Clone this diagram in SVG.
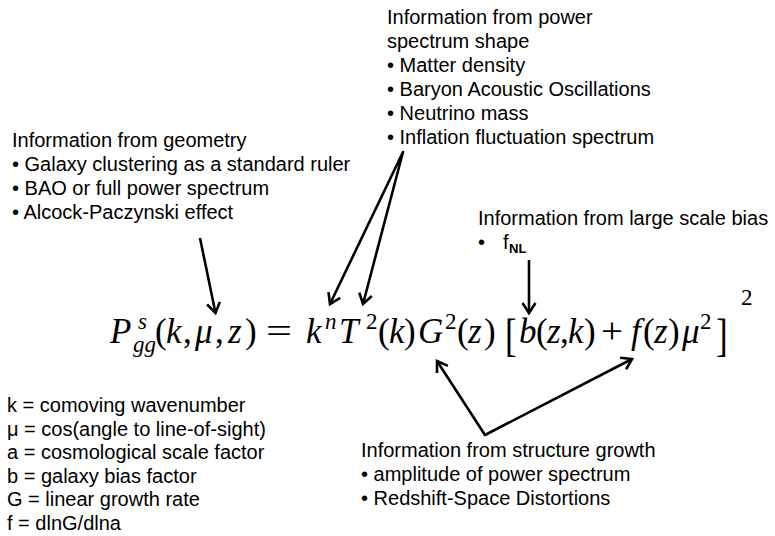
<svg xmlns="http://www.w3.org/2000/svg" width="775" height="536" viewBox="0 0 775 536">
<style>
.t{font-family:"Liberation Sans",Arial,Helvetica,sans-serif;font-size:20px;fill:#000}
.b{font-family:"Liberation Sans",Arial,sans-serif;font-size:13px;font-weight:bold;fill:#000}
.mi{font-family:"Liberation Serif","Times New Roman",serif;font-style:italic;font-size:35px;fill:#000}
.mr{font-family:"Liberation Serif","Times New Roman",serif;font-size:35px;fill:#000}
.s{font-size:23px}
.ln{fill:none;stroke:#000;stroke-width:2.6;stroke-linejoin:round}
</style>
<defs>
<marker id="ah" markerUnits="userSpaceOnUse" viewBox="-13 -8 15 16" markerWidth="15" markerHeight="16" refX="0" refY="0" orient="auto-start-reverse" overflow="visible">
<path d="M-10,-6.5 L0,0 L-10,6.5" fill="none" stroke="#000" stroke-width="2.6" stroke-linejoin="miter"/>
</marker>
</defs>
<rect width="775" height="536" fill="#fff"/>
<g id="power-spectrum-info">
<text class="t" x="387" y="23.5">Information from power</text>
<text class="t" x="387" y="47.5">spectrum shape</text>
<text class="t" x="387" y="71.5">• Matter density</text>
<text class="t" x="387" y="95.5">• Baryon Acoustic Oscillations</text>
<text class="t" x="387" y="119.5">• Neutrino mass</text>
<text class="t" x="387" y="143.5">• Inflation fluctuation spectrum</text>
</g>
<g id="geometry-info">
<text class="t" x="12" y="147">Information from geometry</text>
<text class="t" x="12" y="171">• Galaxy clustering as a standard ruler</text>
<text class="t" x="12" y="195">• BAO or full power spectrum</text>
<text class="t" x="12" y="219">• Alcock-Paczynski effect</text>
</g>
<g id="bias-info">
<text class="t" x="478" y="225">Information from large scale bias</text>
<text class="t" x="478" y="249">•</text>
<text class="t" x="503" y="249">f</text>
<text class="b" x="509" y="253">NL</text>
</g>
<g id="growth-info">
<text class="t" x="361" y="457">Information from structure growth</text>
<text class="t" x="361" y="481">• amplitude of power spectrum</text>
<text class="t" x="361" y="505">• Redshift-Space Distortions</text>
</g>
<g id="legend">
<text class="t" x="7" y="412">k = comoving wavenumber</text>
<text class="t" x="7" y="435.5">μ = cos(angle to line-of-sight)</text>
<text class="t" x="7" y="459">a = cosmological scale factor</text>
<text class="t" x="7" y="482.5">b = galaxy bias factor</text>
<text class="t" x="7" y="506">G = linear growth rate</text>
<text class="t" x="7" y="529.5">f = dlnG/dlna</text>
</g>
<g id="equation">
<text class="mi" x="110" y="343">P</text>
<text class="mi s" x="138" y="329">s</text>
<text class="mi s" x="133" y="352">gg</text>
<text class="mr" x="155" y="343">(</text>
<text class="mi" x="166" y="343">k</text>
<text class="mr" x="183" y="343">,</text>
<text class="mi" x="195" y="343">μ</text>
<text class="mr" x="215" y="343">,</text>
<text class="mi" x="228" y="343">z</text>
<text class="mr" x="245" y="343">)</text>
<text class="mr" x="266" y="343" textLength="26" lengthAdjust="spacingAndGlyphs">=</text>
<text class="mi" x="306" y="343">k</text>
<text class="mi s" x="325" y="329">n</text>
<text class="mi" x="339" y="343">T</text>
<text class="mr s" x="366" y="329">2</text>
<text class="mr" x="378" y="343">(</text>
<text class="mi" x="389" y="343">k</text>
<text class="mr" x="404" y="343">)</text>
<text class="mi" x="418" y="343">G</text>
<text class="mr s" x="445" y="329">2</text>
<text class="mr" x="457" y="343">(</text>
<text class="mi" x="468" y="343">z</text>
<text class="mr" x="484" y="343">)</text>
<text class="mr" x="0" y="0" font-size="36" transform="translate(505,351) scale(1,1.3)">[</text>
<text class="mi" x="519" y="343">b</text>
<text class="mr" x="536" y="343">(</text>
<text class="mi" x="547" y="343">z</text>
<text class="mr" x="560" y="343">,</text>
<text class="mi" x="568" y="343">k</text>
<text class="mr" x="584" y="343">)</text>
<text class="mr" x="601" y="343" textLength="22" lengthAdjust="spacingAndGlyphs">+</text>
<text class="mi" x="631" y="343">f</text>
<text class="mr" x="643" y="343">(</text>
<text class="mi" x="654" y="343">z</text>
<text class="mr" x="668" y="343">)</text>
<text class="mi" x="682" y="343">μ</text>
<text class="mr s" x="700" y="329">2</text>
<text class="mr" x="0" y="0" font-size="36" transform="translate(716,351) scale(1,1.3)">]</text>
<text class="mr s" x="741" y="305">2</text>
</g>
<g id="connectors">
<path class="ln" d="M200,238 L215.5,313" marker-end="url(#ah)"/>
<path class="ln" d="M330,304 L403,152 L363,304" marker-start="url(#ah)" marker-end="url(#ah)"/>
<path class="ln" d="M529,260 L529,313" marker-end="url(#ah)"/>
<path class="ln" d="M437,361 L485,435 L632,359" marker-start="url(#ah)" marker-end="url(#ah)"/>
</g>
</svg>
